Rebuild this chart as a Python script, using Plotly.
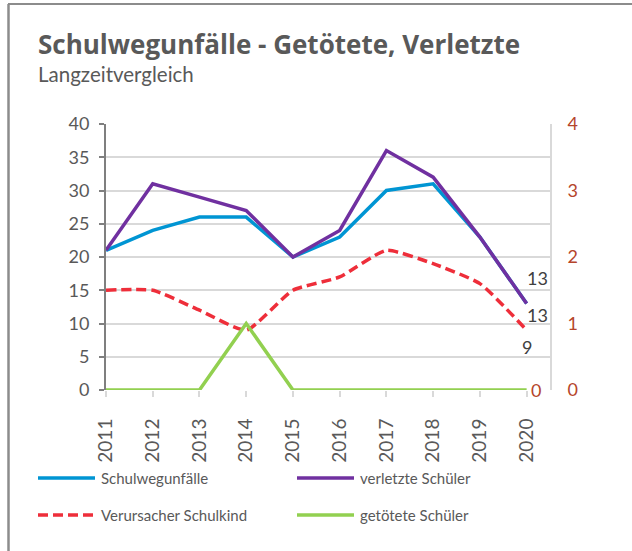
import plotly.graph_objects as go

# Jahre und Werte der Schulwegunfall-Statistik
years = [2011, 2012, 2013, 2014, 2015, 2016, 2017, 2018, 2019, 2020]
schulwegunfaelle = [21, 24, 26, 26, 20, 23, 30, 31, 23, 13]
verletzte_schueler = [21, 31, 29, 27, 20, 24, 36, 32, 23, 13]
verursacher_schulkind = [15, 15, 12, 9, 15, 17, 21, 19, 16, 9]
getoetete_schueler = [0, 0, 0, 1, 0, 0, 0, 0, 0, 0]

left_ticks = [0, 5, 10, 15, 20, 25, 30, 35, 40]
right_ticks = [0, 1, 2, 3, 4]

C_BLUE = "#0095D3"
C_PURPLE = "#7030A0"
C_RED = "#EE2E3A"
C_GREEN = "#92D050"
C_RIGHT = "#B5452B"
C_TEXT = "#595959"
C_LABEL = "#404040"
FONT = "Lato"
DASH = "10px,5px"

W, H = 632, 551
ML, MR, MT, MB = 106, 82, 124, 161
PW, PH = W - ML - MR, H - MT - MB


def px(x):
    return (x - ML) / PW


def py(y):
    return (H - MB - y) / PH


fig = go.Figure()

fig.add_trace(go.Scatter(
    x=years, y=schulwegunfaelle, name="Schulwegunfälle", mode="lines",
    line=dict(color=C_BLUE, width=3.5), showlegend=False))
fig.add_trace(go.Scatter(
    x=years, y=verletzte_schueler, name="verletzte Schüler", mode="lines",
    line=dict(color=C_PURPLE, width=3.5), showlegend=False))
fig.add_trace(go.Scatter(
    x=years, y=verursacher_schulkind, name="Verursacher Schulkind", mode="lines",
    line=dict(color=C_RED, width=3.5, dash=DASH, shape="spline", smoothing=0.5),
    showlegend=False))
fig.add_trace(go.Scatter(
    x=years, y=getoetete_schueler, name="getötete Schüler", mode="lines",
    line=dict(color=C_GREEN, width=3.5), yaxis="y2", showlegend=False))

# Wertebeschriftungen am letzten Jahr
lab_font = dict(family=FONT, size=18, color=C_LABEL)
fig.add_annotation(x=years[-1], y=verletzte_schueler[-1], text=str(verletzte_schueler[-1]),
                   showarrow=False, xanchor="left", yanchor="middle", xshift=-2, yshift=26,
                   font=lab_font)
fig.add_annotation(x=years[-1], y=schulwegunfaelle[-1], text=str(schulwegunfaelle[-1]),
                   showarrow=False, xanchor="left", yanchor="middle", xshift=-2, yshift=-11,
                   font=lab_font)
fig.add_annotation(x=years[-1], y=verursacher_schulkind[-1], text=str(verursacher_schulkind[-1]),
                   showarrow=False, xanchor="center", yanchor="middle", yshift=-17,
                   font=lab_font)
fig.add_annotation(x=years[-1], y=getoetete_schueler[-1], text=str(getoetete_schueler[-1]),
                   yref="y2", showarrow=False, xanchor="left", yanchor="middle", xshift=2,
                   font=dict(family=FONT, size=18, color=C_RIGHT))

# Titel
fig.add_annotation(x=px(36), y=py(44), xref="paper", yref="paper",
                   text="<b>Schulwegunfälle - Getötete, Verletzte</b>", showarrow=False,
                   xanchor="left", yanchor="middle",
                   font=dict(family="Open Sans", size=26, color=C_TEXT))
fig.add_annotation(x=px(36), y=py(74), xref="paper", yref="paper",
                   text="Langzeitvergleich", showarrow=False,
                   xanchor="left", yanchor="middle",
                   font=dict(family=FONT, size=20.5, color=C_TEXT))

# Legende
legend_items = [
    ("Schulwegunfälle", C_BLUE, "solid", 38, 478),
    ("verletzte Schüler", C_PURPLE, "solid", 297, 478),
    ("Verursacher Schulkind", C_RED, DASH, 38, 515),
    ("getötete Schüler", C_GREEN, "solid", 297, 515),
]
for label, color, dash, lx, ly in legend_items:
    fig.add_shape(type="line", xref="paper", yref="paper",
                  x0=px(lx), x1=px(lx + 57), y0=py(ly), y1=py(ly),
                  line=dict(color=color, width=3.5, dash=dash))
    fig.add_annotation(x=px(lx + 61), y=py(ly), xref="paper", yref="paper",
                       text=label, showarrow=False, xanchor="left", yanchor="middle",
                       font=dict(family=FONT, size=15, color=C_TEXT))

# Rahmen
fig.add_shape(type="line", xref="paper", yref="paper",
              x0=px(8.5), x1=px(8.5), y0=py(4), y1=py(H + 10),
              line=dict(color="#8C8C8C", width=2.5))
fig.add_shape(type="line", xref="paper", yref="paper",
              x0=px(8), x1=px(W + 10), y0=py(4), y1=py(4),
              line=dict(color="#8C8C8C", width=2))

fig.update_layout(
    width=W, height=H,
    margin=dict(l=ML, r=MR, t=MT, b=MB),
    paper_bgcolor="white", plot_bgcolor="white",
    font=dict(family=FONT, color=C_TEXT),
    xaxis=dict(
        range=[2011, 2020.5], tickvals=years, ticktext=[str(y) for y in years],
        tickangle=-90, ticks="outside", ticklen=6, tickcolor="#D9D9D9", tickwidth=1.5,
        showgrid=False, zeroline=False, showline=False,
        tickfont=dict(family=FONT, size=19, color=C_TEXT), ticklabelstandoff=14,
    ),
    yaxis=dict(
        range=[0, 40], tickvals=left_ticks, ticks="outside", ticklen=5,
        tickcolor="#7F7F7F", tickwidth=1.5,
        showline=True, linecolor="#7F7F7F", linewidth=2,
        showgrid=True, gridcolor="#D9D9D9", gridwidth=1.5, zeroline=False,
        tickfont=dict(family=FONT, size=18, color=C_TEXT), ticklabelstandoff=6,
    ),
    yaxis2=dict(
        range=[0, 4], tickvals=right_ticks, overlaying="y", side="right",
        showline=True, linecolor="#D9D9D9", linewidth=2, showgrid=False,
        zeroline=False, ticks="",
        tickfont=dict(family=FONT, size=18, color=C_RIGHT), ticklabelstandoff=12,
    ),
)

fig.write_html("out.html")
